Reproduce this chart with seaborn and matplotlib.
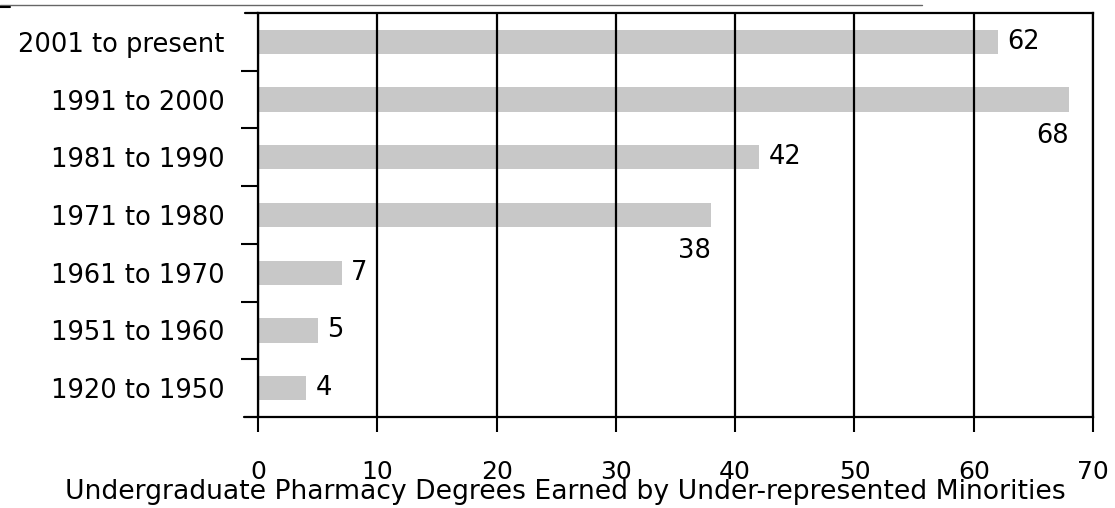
import matplotlib
matplotlib.use('Agg')
import matplotlib.pyplot as plt
from matplotlib.lines import Line2D
import seaborn as sns
import pandas as pd

# données
periods = ['2001 to present', '1991 to 2000', '1981 to 1990', '1971 to 1980',
           '1961 to 1970', '1951 to 1960', '1920 to 1950']
degrees = [62, 68, 42, 38, 7, 5, 4]
x_ticks = [0, 10, 20, 30, 40, 50, 60, 70]
labels_below = ['1991 to 2000', '1971 to 1980']
title = 'Undergraduate Pharmacy Degrees Earned by Under-represented Minorities'

df = pd.DataFrame({'period': periods, 'degrees': degrees})

sns.set_style('white')
plt.rcParams['font.family'] = ['DejaVu Sans']

fig = plt.figure(figsize=(11.15, 5.08), dpi=100)
ax = fig.add_axes([0.2314, 0.1791, 0.7489, 0.7953])

sns.barplot(data=df, x='degrees', y='period', orient='h', color='#c8c8c8',
            saturation=1, width=0.42, linewidth=0, ax=ax)

ax.set_xlim(0, 70)
ax.set_ylim(len(periods) - 0.5, -0.5)
ax.set_xlabel('')
ax.set_ylabel('')

# grille verticale au-dessus des barres
ax.set_axisbelow(False)
ax.xaxis.grid(True, color='black', linewidth=1.6)
ax.yaxis.grid(False)

for side in ['left', 'right', 'top', 'bottom']:
    ax.spines[side].set_visible(True)
    ax.spines[side].set_color('black')
    ax.spines[side].set_linewidth(1.6)

# bords qui dépassent à gauche
ax.plot([-1.2, 0], [len(periods) - 0.5] * 2, color='black', lw=1.6, clip_on=False)
ax.plot([-1.1, 0], [-0.5, -0.5], color='black', lw=1.6, clip_on=False)

ax.set_xticks(x_ticks)
ax.set_xticklabels([str(t) for t in x_ticks])
ax.tick_params(axis='x', direction='out', length=11, width=1.5, color='black',
               pad=20, labelsize=18, labelcolor='black', bottom=True)
ax.set_yticks(range(len(periods)))
ax.set_yticklabels(periods)
ax.set_yticks([i + 0.5 for i in range(len(periods) - 1)], minor=True)
ax.tick_params(axis='y', which='major', length=0, pad=24, labelsize=18.5,
               labelcolor='black')
ax.tick_params(axis='y', which='minor', direction='out', length=12, width=1.5,
               color='black', left=True)

# étiquettes de valeurs
for i, (p, v) in enumerate(zip(periods, degrees)):
    if p in labels_below:
        ax.annotate(str(v), (v, i), xytext=(0, -26), textcoords='offset points',
                    ha='right', va='center', fontsize=18.5, color='black')
    else:
        ax.annotate(str(v), (v, i), xytext=(7, 0), textcoords='offset points',
                    ha='left', va='center', fontsize=18.5, color='black')

fig.text(0.507, 0.031, title, ha='center', va='center', fontsize=19.2, color='black')

# trait fin en haut de l'image
fig.add_artist(Line2D([0, 922 / 1115], [1 - 5 / 508] * 2, color='#666666', lw=1))
fig.add_artist(Line2D([0, 10 / 1115], [1 - 7 / 508] * 2, color='black', lw=1.5))

fig.savefig('out.png', dpi=100)
